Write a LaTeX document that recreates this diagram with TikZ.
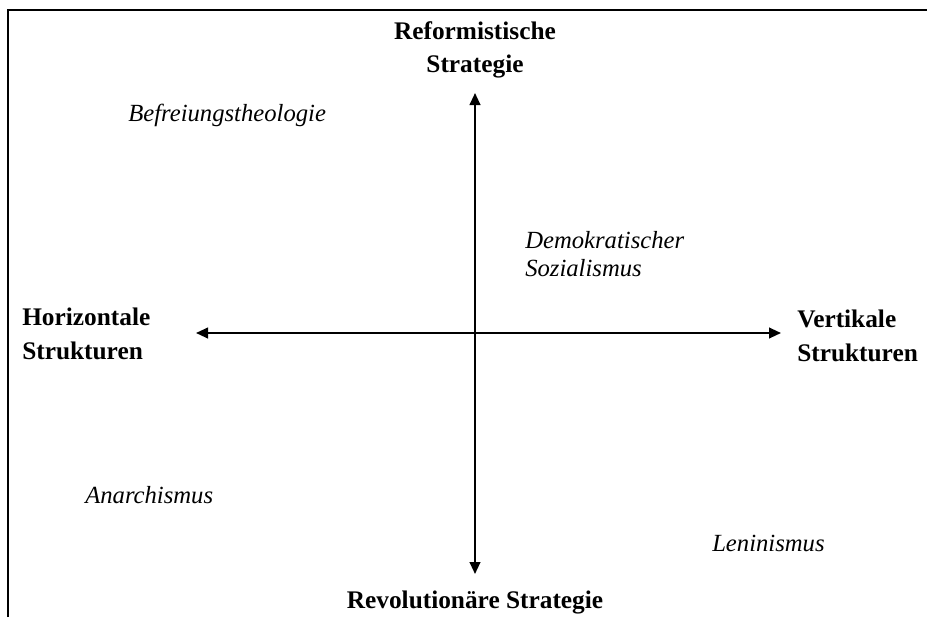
\documentclass[tikz,border=0pt]{standalone}
\usepackage{fontspec}
\setmainfont{Liberation Serif}
\usetikzlibrary{arrows.meta}
\tikzset{
	axis/.style={line width=1.5pt, {Triangle[length=9pt,width=8pt]}-{Triangle[length=9pt,width=8pt]}},
	pole/.style={font=\fontsize{19}{25}\selectfont\bfseries, inner sep=0pt},
	example/.style={font=\fontsize{18.5}{21}\selectfont\itshape, inner sep=0pt, anchor=west, align=left}
}

\begin{document}
\begin{tikzpicture}[x=0.75pt,y=-0.75pt]
			%%%%% START %%%%%
			
			\useasboundingbox (0, 0) rectangle (927, 617);
			\draw[line width=1.1pt] (8, 617) -- (8, 10) -- (927, 10);
			
			\coordinate (top) at (475, 93);
			\coordinate (bottom) at (475, 574);
			\coordinate (left) at (196, 333);
			\coordinate (right) at (781, 333);
			
			\draw[axis] (bottom) -- (top);
			\draw[axis] (left) -- (right);
			
			\node[pole, align=center] (reform) at (475, 50) {Reformistische\\Strategie};
			\node[pole] (revol) at (475, 602) {Revolutionäre Strategie};
			\node[pole, anchor=west, align=left] (horiz) at (22, 334) {Horizontale\\Strukturen};
			\node[pole, anchor=west, align=left] (vert) at (797, 336) {Vertikale\\Strukturen};
			
			\node[example] (befreiung) at (128, 115) {Befreiungstheologie};
			\node[example] (demsoz) at (525, 254) {Demokratischer\\Sozialismus};
			\node[example] (anarch) at (85, 495) {Anarchismus};
			\node[example] (lenin) at (712, 543) {Leninismus};
			
			%%%%% END %%%%%
		\end{tikzpicture}
\end{document}
